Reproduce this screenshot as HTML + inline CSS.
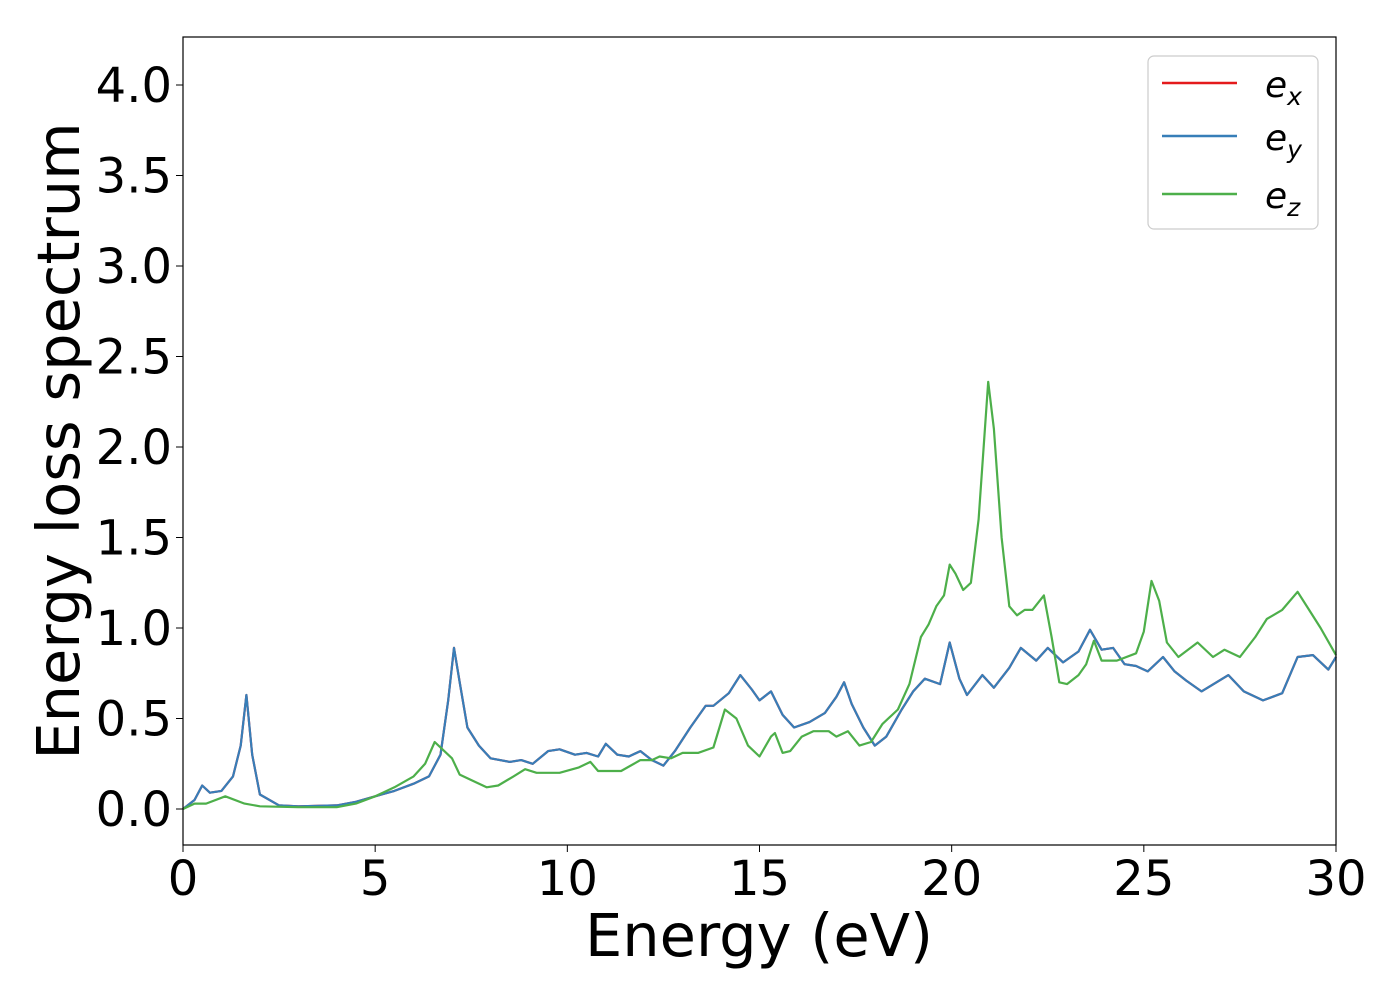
<!DOCTYPE html>
<html><head><meta charset="utf-8"><style>
html,body{margin:0;padding:0;background:#fff;}
svg text{font-family:"DejaVu Sans","Liberation Sans",sans-serif;fill:#000;}
</style></head><body>
<svg id="chart" width="1400" height="1000" xmlns="http://www.w3.org/2000/svg">
<g id="ticks"></g>
<g id="series"></g>
<rect x="183" y="37" width="1153" height="808" fill="none" stroke="#000" stroke-width="1.2"/>
<text x="759" y="956" font-size="59" text-anchor="middle">Energy (eV)</text>
<text transform="translate(79,441) rotate(-90)" font-size="59" text-anchor="middle">Energy loss spectrum</text>
<g>
<rect x="1148" y="56" width="170" height="173" rx="6" fill="#fff" stroke="#ccc" stroke-width="1.2"/>
<line x1="1162" y1="83" x2="1237" y2="83" stroke="#e41a1c" stroke-width="2.5"/>
<text x="1265" y="97" font-size="36" font-style="italic">e<tspan font-size="25" dy="8">x</tspan></text>
<line x1="1162" y1="136" x2="1237" y2="136" stroke="#377eb8" stroke-width="2.5"/>
<text x="1265" y="150" font-size="36" font-style="italic">e<tspan font-size="25" dy="8">y</tspan></text>
<line x1="1162" y1="194" x2="1237" y2="194" stroke="#4daf4a" stroke-width="2.5"/>
<text x="1265" y="208" font-size="36" font-style="italic">e<tspan font-size="25" dy="8">z</tspan></text>
</g>
</svg>
<script>
const xTicks=[0,5,10,15,20,25,30];
const yTicks=[0.0,0.5,1.0,1.5,2.0,2.5,3.0,3.5,4.0];
const xyEnergy=[0,0.3,0.5,0.7,1.0,1.3,1.5,1.65,1.8,2.0,2.5,3,4,4.5,5,5.5,6,6.4,6.7,6.9,7.05,7.2,7.4,7.7,8,8.5,8.8,9.1,9.5,9.8,10.2,10.5,10.8,11,11.3,11.6,11.9,12.2,12.5,12.8,13.2,13.6,13.8,14.2,14.5,14.8,15,15.3,15.6,15.9,16.3,16.7,17,17.2,17.4,17.7,18,18.3,18.7,19,19.3,19.7,19.95,20.2,20.4,20.8,21.1,21.5,21.8,22.2,22.5,22.9,23.3,23.6,23.9,24.2,24.5,24.8,25.1,25.5,25.8,26.1,26.5,27.2,27.6,28.1,28.6,29,29.4,29.8,30];
const exValues=[0,0.05,0.13,0.09,0.1,0.18,0.35,0.63,0.3,0.08,0.02,0.015,0.02,0.04,0.07,0.1,0.14,0.18,0.3,0.6,0.89,0.7,0.45,0.35,0.28,0.26,0.27,0.25,0.32,0.33,0.30,0.31,0.29,0.36,0.30,0.29,0.32,0.27,0.24,0.32,0.45,0.57,0.57,0.64,0.74,0.66,0.6,0.65,0.52,0.45,0.48,0.53,0.62,0.7,0.58,0.45,0.35,0.4,0.55,0.65,0.72,0.69,0.92,0.72,0.63,0.74,0.67,0.78,0.89,0.82,0.89,0.81,0.87,0.99,0.88,0.89,0.8,0.79,0.76,0.84,0.76,0.71,0.65,0.74,0.65,0.6,0.64,0.84,0.85,0.77,0.84];
const eyValues=exValues.slice();
const zEnergy=[0,0.3,0.6,1.1,1.6,2,3,4,4.5,5,5.5,6,6.3,6.55,6.8,7.0,7.2,7.6,7.9,8.2,8.6,8.9,9.2,9.8,10.3,10.6,10.8,11.4,11.9,12.2,12.4,12.7,13,13.4,13.8,14.1,14.4,14.7,15,15.3,15.4,15.6,15.8,16.1,16.4,16.8,17,17.3,17.6,17.9,18.2,18.6,18.9,19.2,19.4,19.6,19.8,19.95,20.1,20.3,20.5,20.7,20.95,21.1,21.3,21.5,21.7,21.9,22.1,22.4,22.6,22.8,23,23.3,23.5,23.7,23.9,24.3,24.8,25,25.2,25.4,25.6,25.9,26.4,26.8,27.1,27.5,27.9,28.2,28.6,29,29.3,29.6,30];
const ezValues=[0,0.03,0.03,0.07,0.03,0.015,0.01,0.01,0.03,0.07,0.12,0.18,0.25,0.37,0.32,0.28,0.19,0.15,0.12,0.13,0.18,0.22,0.2,0.2,0.23,0.26,0.21,0.21,0.27,0.27,0.29,0.28,0.31,0.31,0.34,0.55,0.5,0.35,0.29,0.4,0.42,0.31,0.32,0.4,0.43,0.43,0.4,0.43,0.35,0.37,0.47,0.55,0.69,0.95,1.02,1.12,1.18,1.35,1.3,1.21,1.25,1.6,2.36,2.1,1.5,1.12,1.07,1.1,1.1,1.18,0.95,0.7,0.69,0.74,0.8,0.93,0.82,0.82,0.86,0.98,1.26,1.15,0.92,0.84,0.92,0.84,0.88,0.84,0.95,1.05,1.1,1.2,1.1,1.0,0.85];

const X0=183,X1=1336,XMIN=0,XMAX=30;
const YB=809,YPX=181;
function xs(v){return X0+(v-XMIN)/(XMAX-XMIN)*(X1-X0);}
function ys(v){return YB-v*YPX;}
const NS='http://www.w3.org/2000/svg';
const tg=document.getElementById('ticks');
xTicks.forEach(t=>{
  const l=document.createElementNS(NS,'line');
  
  
  l.setAttribute('x1',xs(t));l.setAttribute('x2',xs(t));l.setAttribute('y1',845);l.setAttribute('y2',852);l.setAttribute('stroke','#000');
  tg.appendChild(l);
  const tx=document.createElementNS(NS,'text');
  
  
  tx.setAttribute('x',xs(t));tx.setAttribute('y',895);tx.setAttribute('font-size','48');tx.setAttribute('text-anchor','middle');
  tx.textContent=t;tg.appendChild(tx);
});
yTicks.forEach(t=>{
  const l=document.createElementNS(NS,'line');
  
  
  l.setAttribute('x1',176);l.setAttribute('x2',183);l.setAttribute('y1',ys(t));l.setAttribute('y2',ys(t));l.setAttribute('stroke','#000');
  tg.appendChild(l);
  const tx=document.createElementNS(NS,'text');
  
  
  tx.setAttribute('x',172);tx.setAttribute('y',ys(t)+17);tx.setAttribute('font-size','48');tx.setAttribute('text-anchor','end');
  tx.textContent=t.toFixed(1);tg.appendChild(tx);
});
const sg=document.getElementById('series');
function draw(xa,ya,color,name){
  const p=document.createElementNS(NS,'polyline');
  
  
  p.setAttribute('points',xa.map((x,i)=>xs(x).toFixed(1)+','+ys(ya[i]).toFixed(1)).join(' '));
  p.setAttribute('fill','none');p.setAttribute('stroke',color);p.setAttribute('stroke-width','2.2');p.setAttribute('stroke-linejoin','round');
  sg.appendChild(p);
}
draw(xyEnergy,exValues,'#e41a1c','series-ex');
draw(xyEnergy,eyValues,'#377eb8','series-ey');
draw(zEnergy,ezValues,'#4daf4a','series-ez');
</script>
</body></html>
